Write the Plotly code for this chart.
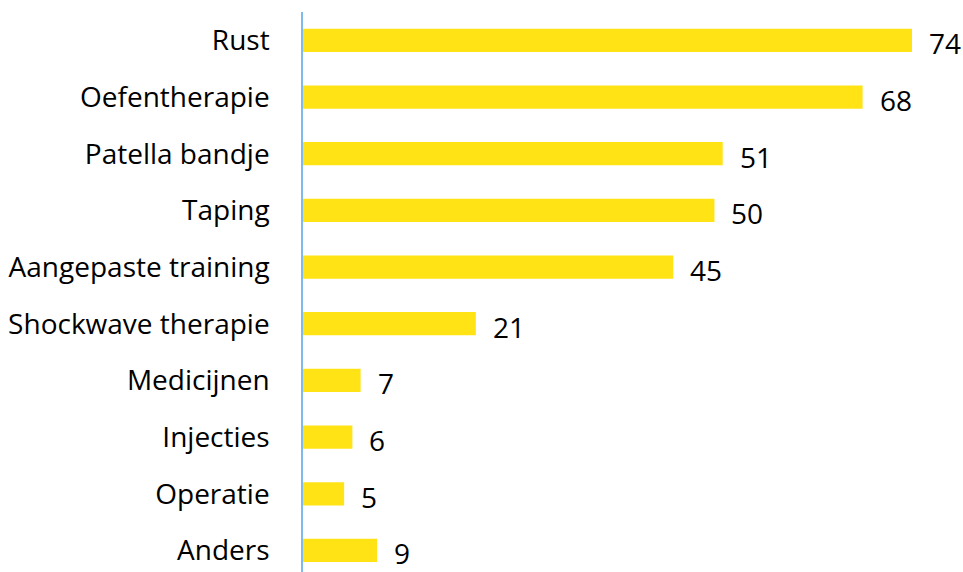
import plotly.graph_objects as go

categories = ["Rust", "Oefentherapie", "Patella bandje", "Taping", "Aangepaste training",
              "Shockwave therapie", "Medicijnen", "Injecties", "Operatie", "Anders"]
counts = [74, 68, 51, 50, 45, 21, 7, 6, 5, 9]

BAR_COLOR = "#FFE314"
FONT = "Open Sans"
FONT_SIZE = 28

fig = go.Figure(go.Bar(
    x=counts,
    y=categories,
    orientation="h",
    marker=dict(color=BAR_COLOR, line=dict(width=0)),
    width=0.41,
    hoverinfo="x+y",
))

for cat, val in zip(categories, counts):
    fig.add_annotation(x=val, y=cat, text=str(val), showarrow=False,
                       xanchor="left", yanchor="middle", xshift=15, yshift=-3,
                       font=dict(family=FONT, size=FONT_SIZE, color="#000000"))

fig.update_layout(
    width=963, height=572,
    margin=dict(l=303, r=0, t=12, b=0),
    paper_bgcolor="white", plot_bgcolor="white",
    showlegend=False,
    font=dict(family=FONT, size=FONT_SIZE, color="#000000"),
    xaxis=dict(range=[0, 80.2], visible=False, fixedrange=True),
    yaxis=dict(
        type="category",
        categoryorder="array", categoryarray=categories,
        range=[9.38, -0.5],
        showline=True, linecolor="#7FBBEA", linewidth=1.5,
        showgrid=False, zeroline=False,
        ticks="", ticklabelstandoff=26,
        tickfont=dict(family=FONT, size=FONT_SIZE, color="#000000"),
    ),
)

fig.write_html("out.html")
